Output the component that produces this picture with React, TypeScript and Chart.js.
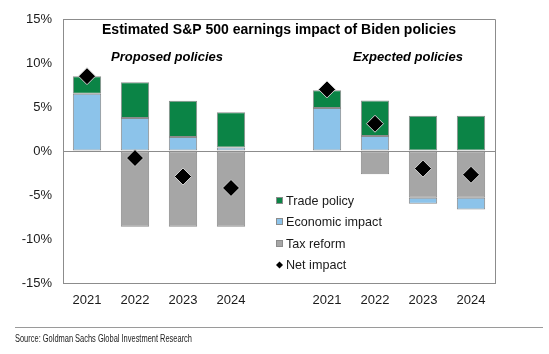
import React, { useEffect, useRef } from "react";
import { Chart, registerables } from "chart.js";

Chart.register(...registerables);

const categories = ["2021", "2022", "2023", "2024", "", "2021", "2022", "2023", "2024"];
const taxReform = [null, -8.6, -8.6, -8.6, null, null, -2.65, -5.3, -5.3];
const economicImpact = [6.5, 3.75, 1.6, 0.4, null, 4.9, 1.7, -0.7, -1.35];
const tradePolicy = [2.0, 4.05, 4.1, 4.0, null, 2.0, 4.05, 4.0, 4.0];
const netImpact = [8.5, -0.8, -2.9, -4.2, null, 7.0, 3.1, -2.0, -2.7];
const yTicks = [-15, -10, -5, 0, 5, 10, 15];

const titleText = "Estimated S&P 500 earnings impact of Biden policies";
const groupLabels = ["Proposed policies", "Expected policies"];
const legendLabels = ["Trade policy", "Economic impact", "Tax reform", "Net impact"];
const sourceText = "Source: Goldman Sachs Global Investment Research";

const GREEN = "#0b8446";
const BLUE = "#8cc3ea";
const GRAY = "#a6a6a6";
const EDGE = "#8c8c8c";
const BOX = "#8c8c8c";
const FONT = "'Liberation Sans', Arial, sans-serif";

const annotations = {
  id: "annotations",
  beforeDatasetsDraw(chart: any) {
    const { ctx, chartArea: a } = chart;
    ctx.save();
    ctx.strokeStyle = BOX;
    ctx.lineWidth = 1;
    ctx.beginPath();
    ctx.moveTo(a.left, Math.round(a.top) + 0.5);
    ctx.lineTo(Math.round(a.right) + 0.5, Math.round(a.top) + 0.5);
    ctx.lineTo(Math.round(a.right) + 0.5, Math.round(a.bottom) + 0.5);
    ctx.stroke();
    ctx.restore();
  },
  afterDraw(chart: any) {
    const { ctx, chartArea: a, width } = chart;
    ctx.save();
    ctx.fillStyle = "#000";
    ctx.textBaseline = "middle";
    ctx.textAlign = "center";
    ctx.font = `bold 14px ${FONT}`;
    ctx.fillText(titleText, (a.left + a.right) / 2, 30);
    ctx.font = `italic bold 13px ${FONT}`;
    ctx.fillText(groupLabels[0], 167, 57);
    ctx.fillText(groupLabels[1], 408, 57);

    // legend
    const colors = [GREEN, BLUE, GRAY];
    const rows = [201, 222, 244, 265];
    ctx.textAlign = "left";
    ctx.font = `12.6px ${FONT}`;
    rows.forEach((y, i) => {
      if (i < 3) {
        ctx.fillStyle = colors[i];
        ctx.fillRect(276.5, y - 3.5, 6, 6);
        ctx.strokeStyle = EDGE;
        ctx.lineWidth = 1;
        ctx.strokeRect(276.5, y - 3.5, 6, 6);
      } else {
        ctx.fillStyle = "#000";
        ctx.beginPath();
        ctx.moveTo(279.5, y - 3.5);
        ctx.lineTo(283, y);
        ctx.lineTo(279.5, y + 3.5);
        ctx.lineTo(276, y);
        ctx.closePath();
        ctx.fill();
      }
      ctx.fillStyle = "#1a1a1a";
      ctx.fillText(legendLabels[i], 286, y + 0.5);
    });

    // source
    ctx.strokeStyle = "#9a9a9a";
    ctx.lineWidth = 1;
    ctx.beginPath();
    ctx.moveTo(15, 327.5);
    ctx.lineTo(width - 6, 327.5);
    ctx.stroke();
    ctx.fillStyle = "#222";
    ctx.font = `10px ${FONT}`;
    const w = ctx.measureText(sourceText).width;
    const sx = 177 / w;
    ctx.translate(15, 339.5);
    ctx.scale(sx, 1);
    ctx.fillText(sourceText, 0, 0);
    ctx.restore();
  },
};

export default function App() {
  const ref = useRef<HTMLCanvasElement | null>(null);

  useEffect(() => {
    document.body.style.margin = "0";
    const canvas = ref.current;
    if (!canvas) return;
    const barCommon = {
      type: "bar" as const,
      stack: "bars",
      borderColor: EDGE,
      borderWidth: 1,
      borderSkipped: false,
      barPercentage: 0.59,
      categoryPercentage: 1,
    };
    const chart = new Chart(canvas, {
      type: "bar",
      data: {
        labels: categories,
        datasets: [
          { ...barCommon, label: legendLabels[2], data: taxReform, backgroundColor: GRAY },
          { ...barCommon, label: legendLabels[1], data: economicImpact, backgroundColor: BLUE },
          { ...barCommon, label: legendLabels[0], data: tradePolicy, backgroundColor: GREEN },
          {
            type: "line" as const,
            label: legendLabels[3],
            stack: "net",
            order: -1,
            data: netImpact,
            showLine: false,
            pointStyle: "rectRot",
            pointRadius: 8.5,
            pointBackgroundColor: "#000",
            pointBorderColor: "#d0d0d0",
            pointBorderWidth: 1,
          } as any,
        ],
      },
      options: {
        animation: false,
        responsive: false,
        layout: { padding: { left: 0, right: 54, top: 19, bottom: 0 } },
        plugins: { legend: { display: false }, tooltip: { enabled: false } },
        scales: {
          x: {
            stacked: true,
            grid: { display: false, drawTicks: false },
            border: { display: true, color: BOX, width: 1 },
            ticks: { color: "#1a1a1a", font: { family: FONT, size: 13 }, padding: 10, maxRotation: 0, autoSkip: false },
            afterFit: (s: any) => {
              s.height = 71;
            },
          },
          y: {
            stacked: true,
            min: -15,
            max: 15,
            afterBuildTicks: (s: any) => {
              s.ticks = yTicks.map((v) => ({ value: v }));
            },
            grid: {
              drawTicks: false,
              color: (c: any) => (c.tick && c.tick.value === 0 ? BOX : "rgba(0,0,0,0)"),
              lineWidth: 1,
            },
            border: { display: true, color: BOX, width: 1 },
            ticks: {
              color: "#1a1a1a",
              font: { family: FONT, size: 13 },
              padding: 11,
              callback: (v: any) => `${v}%`,
            },
            afterFit: (s: any) => {
              s.width = 63;
            },
          },
        },
      },
      plugins: [annotations],
    });
    return () => chart.destroy();
  }, []);

  return (
    <div style={{ width: 549, height: 354 }}>
      <canvas ref={ref} width={549} height={354} style={{ display: "block" }} />
    </div>
  );
}
